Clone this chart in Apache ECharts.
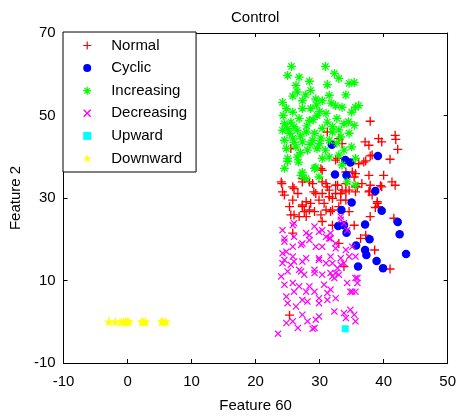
<!DOCTYPE html>
<html>
<head>
<meta charset="utf-8">
<script src="https://cdn.jsdelivr.net/npm/echarts@6/dist/echarts.min.js"></script>
<style>
html,body{margin:0;padding:0;background:#fff;}
#chart{width:459px;height:418px;}
</style>
</head>
<body>
<div id="chart"></div>
<script>
// ---- data ----
const seriesNames = ['Normal', 'Cyclic', 'Increasing', 'Decreasing', 'Upward', 'Downward'];

const normal = [
  [36.1,38.3],[37.2,39],[41,39.4],[37.9,40.2],[32.5,39.2],[30.4,36.7],[35.6,35.9],[37.7,35.5],[40,35.5],
  [24,33.9],[25.8,32.7],[27.3,33.9],[28.9,33.5],[31,33.5],[32.5,33.1],[34.1,33.5],[35.9,32.7],[37.9,33.1],
  [39.7,32.7],[41.3,33.9],[41.8,33.1],[24.2,31.5],[26.6,31.1],[29.1,31.5],[30.4,31.1],[31.5,31.9],[33.3,31.1],
  [35.6,31.5],[37.7,31.5],[25.8,29.5],[27.9,29.1],[29.9,29.5],[32,29.9],[34.1,29.5],[25.3,27.9],[27.3,27.9],
  [28.4,27.1],[31,27.1],[39,28.7],[39.2,27.9],[25.5,25.9],[26.8,25.5],[30.2,25.9],[31.7,26.7],[34.6,26.7],
  [37.9,25.5],[41.6,25.1],[30.4,24.3],[32,23.4],[35.4,23.4],[25.8,21.5],[33,19],[36.4,20.2],[37.2,21],
  [38.6,17.4],[33.8,13.4],[41,12.8],[25.3,1.6],
  [37.9,48.6],[37.1,43.6],[37.7,42.8],[39.2,44.4],[39.7,43.6],[41.8,45.2],[41.9,44.2],[42.2,41.8],[38.2,40.4],
  [36.9,38.7],[33.5,43.2],[35.1,36.3],[39.5,33],[37.8,31.7],[36.6,33.5],[34.1,36.3],[33.5,31.9],[34.6,31.9],
  [38.2,30.7],[39,29.1],[38.7,27.7],[35.4,35.1],[35.6,32.7],
  [24.1,33.5],[24.5,30.7],[26,32.3],[27.6,34.7],[28.4,33.9],[30.2,37.1],[30.4,33.9],[31.2,32.7],[29.4,31.1],
  [31.5,30.3],[32.8,33.1],[32.5,31.1],[30.7,28.7],[28.6,28.7],[27.3,28.3],[27.6,26.7],[29.2,26.7],[26,25.9],
  [27.9,25.5],[32,27.1],[33,27.9],[33.3,29.5],[34.1,31.5],
  [31.2,46],[32.8,39.6],[25.5,42],[27.3,34.7],[33,44.4]
];

const cyclic = [
  [39.1,40.2],[34,39.2],[34.8,38.6],[32.4,35.7],[34.2,35.5],[38.7,31.7],[35,28.9],[39.7,26.9],[33.4,27.1],
  [42.2,24.2],[37.1,23.6],[32.9,23.2],[33.8,23.4],[34.2,21.6],[42.5,21.2],[37.8,20],[35.7,18.5],[37.1,17.4],
  [37.3,16.2],[43.5,16.4],[38.9,14.7],[39.9,13],[36,13.4],[31.9,42.9]
];

const increasing = [
  [25.6,61.9],[30.9,61.9],[25,59.7],[26.8,59.3],[28.4,58.3],[32.3,60.2],[33,59],[31.2,57.5],[34.6,57.8],
  [35.4,58],[26.3,57.3],[26.5,55.7],[28.6,56.1],[25.8,54.7],[24.2,53.2],[31.5,54.9],[34.1,55],[27.3,53.6],
  [29.4,54],[30.4,53.6],[32.5,52.4],[25.8,50.8],[27.3,51.7],[28.6,51.7],[35.6,52],[36.1,52.4],[35,50.8],
  [24.5,48],[25.5,48.4],[26.8,49.3],[28.4,48.8],[29.6,50],[31.2,48.4],[32.7,49.3],[33.8,48],[35.4,47.6],
  [24.2,46.4],[25.3,45.7],[26.5,46.4],[27.9,46],[29.2,45.7],[30.4,46.9],[32,46],[33.3,44.8],[34.6,45.7],
  [24.5,44],[25.8,44.5],[27.3,43.6],[28.9,44],[30.2,44.5],[31.5,44],[32.7,43.3],[24.8,42],[26.3,42.4],
  [28.1,41.6],[29.6,42],[30.9,41.6],[33.8,41.6],[35,42.4],[25,39.6],[26.5,39.9],[30.4,39.6],[31.5,39.9],
  [33,40.4],[35.6,39.6],[24.5,37.2],[29.2,37.2],[27.1,35.5],[29.9,35.1],[34.3,33.9],[27.9,34.7],[35.6,33.1],
  [24.3,50],[25,46.8],[26,47.3],[27,45],[28,47.5],[29,49],[30,51],[31,50.5],[32,47.3],[33,46.5],[28.5,43],
  [27,41],[26,43.5],[30,43.2],[24.8,51.7],[29.5,52.5],[31.8,53],[27.8,55],[33.5,52],[34.5,48.5],
  [26.7,38.7],[27.3,36.2],[29.4,37.4],[33.5,38],[25,38.9]
];

const decreasing = [
  [24.2,14.2],[25.5,13.8],[27.3,14.6],[29.9,15],[32,14.2],[33.3,13.8],[25,12.2],[27.1,12.2],[29.2,12.6],
  [30.4,11.4],[31.7,11.8],[32.3,10.6],[24,11],[27.6,11.4],[35.6,10.6],[35.9,9.4],[34.3,9.4],[24.5,9],
  [25.8,9.4],[26.8,8.6],[28.4,8.6],[30.7,9],[26,7.3],[27.9,7.3],[29.2,7.3],[31.2,7],[31.7,7.8],[34.8,7.3],
  [35.6,7.3],[24.8,6.1],[27.3,5.3],[29.9,5.7],[31.2,5.3],[32.5,5.7],[25,4.5],[28.1,4.9],[29.9,4.5],
  [26.3,3.7],[32.3,2.5],[33.8,2.1],[34.8,2.9],[35.4,1.7],[27.3,1.7],[28.1,0.1],[29.9,1.3],[29.4,0.5],
  [34.1,0.9],[35.6,0.1],[24.8,-0.3],[25.8,0.1],[26.6,-1.5],[29.2,-1.5],[23.5,-2.9],[28.9,-1.7],
  [24.2,22.2],[26,23.9],[24.5,20.2],[26,20.6],[29.2,23.1],[29.9,21.8],[31,20.6],[31.7,20.2],[28.4,19.8],
  [27.3,19],[24.8,17],[24.5,15],[26,14.6],[27.9,15.4],[29.9,15.4],[31.7,15.8],[33.3,15.4],[34.1,17.4],
  [34.6,15.8],[33.3,25.5],[33.8,23.9],[29.4,18.2],[30.4,18.2],[32.5,19],[33.3,24.7],[34.3,22.2],[35.1,18.2],
  [35.6,15.8],[32.5,11.8],[32,11],[35.9,10.6],[35.1,7.3],[27.9,21.5],[30.4,22.2],[31.5,20.2],
  [25.8,23.4],[24.5,19.4],[25.8,18.2],[24.2,16.6],[25.8,15.8],[27.1,18.6],[28.4,21],[31.7,21.5],[32.5,17.8],
  [31,14.2],[26.8,12.6],[29.2,11.8],[32.8,13],[33.8,14.2],[33,11.4]
];

const upward = [[34,-1.7]];

const downward = [
  [-2.9,0],[-1.9,0],[-1,0],[-0.6,0],[-0.3,0],[0,0],[0.2,0],[2.2,0],[2.5,0],[2.8,0],[5.3,0],[5.6,0],[6,0]
];

const xTicks = {min: -10, max: 50, interval: 10};
const yTicks = {min: -10, max: 70, interval: 20};

// ---- marker shapes ----
const PLUS_D = 'M-1.5,-10L1.5,-10L1.5,-1.5L10,-1.5L10,1.5L1.5,1.5L1.5,10L-1.5,10L-1.5,1.5L-10,1.5L-10,-1.5L-1.5,-1.5Z';
const X_D = 'M6.08,-8.06L8.06,-6.08L1.98,0L8.06,6.08L6.08,8.06L0,1.98L-6.08,8.06L-8.06,6.08L-1.98,0L-8.06,-6.08L-6.08,-8.06L0,-1.98Z';
const STAR_D = 'M0,-10L2.25,-3.09L9.51,-3.09L3.63,1.18L5.88,8.09L0,3.82L-5.88,8.09L-3.63,1.18L-9.51,-3.09L-2.25,-3.09Z';
const SQUARE_D = 'M-5,-5L5,-5L5,5L-5,5Z';

const FONT = "'Liberation Sans', Arial, Helvetica, sans-serif";

const chart = echarts.init(document.getElementById('chart'), null, {renderer: 'canvas'});

function axisCommon(extra) {
  return Object.assign({
    type: 'value',
    splitLine: {show: false},
    axisLine: {show: true, onZero: false, lineStyle: {color: '#000', width: 1}},
    axisTick: {show: true, inside: true, length: 4, lineStyle: {color: '#000', width: 1}},
    axisLabel: {show: true, color: '#000', fontSize: 15, fontFamily: FONT, showMinLabel: true, showMaxLabel: true},
    nameTextStyle: {color: '#000', fontSize: 15, fontFamily: FONT}
  }, extra);
}

function mk(name, data, symbol, size, color) {
  return {
    name: name, type: 'scatter', data: data,
    symbol: symbol, symbolSize: size,
    itemStyle: {color: color, opacity: 1},
    emphasis: {disabled: true},
    xAxisIndex: 0, yAxisIndex: 0
  };
}

chart.setOption({
  animation: false,
  backgroundColor: '#fff',
  textStyle: {fontFamily: FONT},
  title: {
    text: 'Control', left: 231, top: 10, padding: 0,
    textStyle: {fontSize: 15, fontWeight: 'normal', color: '#000', fontFamily: FONT}
  },
  grid: {left: 63, top: 33, width: 386, height: 330, containLabel: false},
  legend: {
    orient: 'vertical', left: 63, top: 32,
    padding: [6, 9, 6, 20],
    itemWidth: 38, itemHeight: 8, itemGap: 7.6,
    borderColor: '#000', borderWidth: 1, backgroundColor: '#fff',
    selectedMode: false,
    textStyle: {fontSize: 15, color: '#000', fontFamily: FONT},
    data: seriesNames,
    z: 10
  },
  xAxis: [
    axisCommon(Object.assign({position: 'bottom', name: 'Feature 60', nameLocation: 'middle', nameGap: 35,
      axisLabel: {show: true, color: '#000', fontSize: 15, fontFamily: FONT, margin: 11, showMinLabel: true, showMaxLabel: true}}, xTicks)),
    axisCommon(Object.assign({position: 'top', axisLabel: {show: false}}, xTicks))
  ],
  yAxis: [
    axisCommon(Object.assign({position: 'left', name: 'Feature 2', nameLocation: 'middle', nameGap: 38,
      axisLabel: {show: true, color: '#000', fontSize: 15, fontFamily: FONT, margin: 8, showMinLabel: true, showMaxLabel: true}}, yTicks)),
    axisCommon(Object.assign({position: 'right', axisLabel: {show: false}}, yTicks))
  ],
  series: [
    mk(seriesNames[0], normal, 'path://' + PLUS_D, 9, '#ff0000'),
    mk(seriesNames[1], cyclic, 'circle', 8.5, '#0000ff'),
    mk(seriesNames[2], increasing, 'path://' + PLUS_D + X_D, 9, '#00ff00'),
    mk(seriesNames[3], decreasing, 'path://' + X_D, 7, '#ff00ff'),
    mk(seriesNames[4], upward, 'path://' + SQUARE_D, 7, '#00ffff'),
    mk(seriesNames[5], downward, 'path://' + STAR_D, 10, '#ffff00')
  ]
});
</script>
</body>
</html>
